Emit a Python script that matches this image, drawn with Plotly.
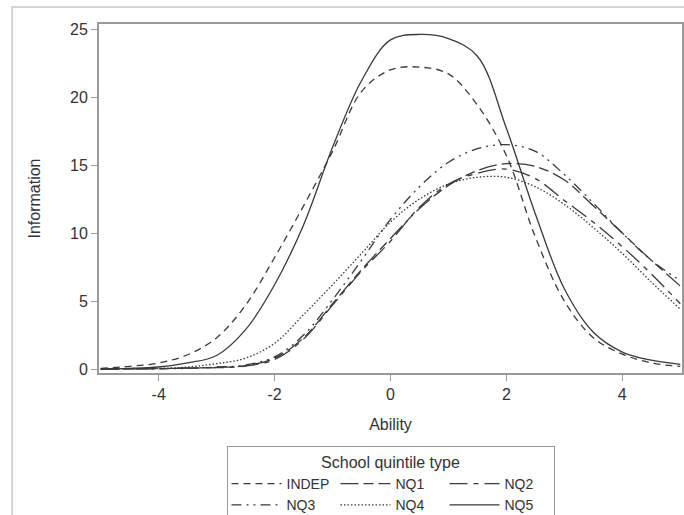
import plotly.graph_objects as go

ability = [-5, -4.5, -4, -3.5, -3, -2.5, -2, -1.5, -1, -0.5, 0, 0.5, 1, 1.5, 2, 2.5, 3, 3.5, 4, 4.5, 5]

series_names = ["INDEP", "NQ1", "NQ2", "NQ3", "NQ4", "NQ5"]
indep = [0.05, 0.2, 0.45, 1.05, 2.3, 4.7, 8.2, 12.0, 16.0, 20.4, 22.0, 22.2, 21.7, 19.4, 15.7, 9.7, 5.0, 2.3, 1.1, 0.45, 0.2]
nq1 = [0.0, 0.01, 0.03, 0.08, 0.12, 0.25, 0.8, 2.3, 4.8, 7.3, 9.6, 11.8, 13.5, 14.6, 15.1, 14.9, 13.9, 12.0, 10.0, 8.0, 6.1]
nq2 = [0.0, 0.01, 0.03, 0.07, 0.1, 0.22, 0.7, 2.2, 4.7, 7.2, 9.4, 11.9, 13.6, 14.4, 14.7, 14.0, 12.4, 10.8, 9.0, 7.0, 4.8]
nq3 = [0.0, 0.01, 0.02, 0.05, 0.15, 0.3, 0.9, 2.5, 5.1, 8.0, 11.0, 13.4, 15.2, 16.2, 16.5, 16.0, 14.3, 12.2, 10.0, 8.0, 6.5]
nq4 = [0.0, 0.02, 0.05, 0.15, 0.4, 0.8, 1.9, 4.0, 6.2, 8.5, 10.8, 12.5, 13.6, 14.1, 14.1, 13.4, 12.1, 10.4, 8.5, 6.4, 4.4]
nq5 = [0.02, 0.05, 0.15, 0.45, 1.0, 2.9, 6.2, 10.6, 16.3, 21.2, 24.2, 24.6, 24.3, 23.0, 17.7, 11.4, 5.9, 2.7, 1.25, 0.65, 0.35]

x_ticks = [-4, -2, 0, 2, 4]
x_tick_labels = ["-4", "-2", "0", "2", "4"]
y_ticks = [0, 5, 10, 15, 20, 25]

series_values = [indep, nq1, nq2, nq3, nq4, nq5]
dashes = ["7px,5px", "18px,5px,10px,5px", "18px,6px,5px,6px",
          "10px,5px,2px,5px,2px,5px", "1.5px,2px", "solid"]
groups = ["c1", "c2", "c3", "c1", "c2", "c3"]

FONT = "Liberation Sans, Arial, sans-serif"
TEXT_COLOR = "#333333"
LINE_COLOR = "#3a3a3a"
AXIS_COLOR = "#9a9a9a"
FS = 16

fig = go.Figure()
for name, vals, dash, grp in zip(series_names, series_values, dashes, groups):
    fig.add_trace(go.Scatter(
        x=ability, y=vals, name=name, mode="lines",
        line=dict(color=LINE_COLOR, width=1.3, dash=dash, shape="spline", smoothing=1.0),
        legendgroup=grp,
    ))

axis_common = dict(
    showline=True, linecolor=AXIS_COLOR, linewidth=2, mirror=True,
    ticks="outside", ticklen=6, tickwidth=1, tickcolor=AXIS_COLOR,
    showgrid=False, zeroline=False,
    tickfont=dict(family=FONT, size=FS, color=TEXT_COLOR),
)

fig.update_layout(
    width=684, height=515,
    margin=dict(l=99, r=2, t=24, b=142, autoexpand=False),
    paper_bgcolor="white", plot_bgcolor="white",
    font=dict(family=FONT, size=FS, color=TEXT_COLOR),
    xaxis=dict(range=[-5.03, 5.03], tickvals=x_ticks, ticktext=x_tick_labels,
               title=dict(text="Ability", standoff=17,
                          font=dict(family=FONT, size=FS, color=TEXT_COLOR)),
               **axis_common),
    yaxis=dict(range=[-0.29, 25.37], tickvals=y_ticks,
               title=dict(text="Information", standoff=25,
                          font=dict(family=FONT, size=FS, color=TEXT_COLOR)),
               **axis_common),
    legend=dict(
        orientation="h", traceorder="grouped", tracegroupgap=10,
        itemwidth=50, entrywidth=44, entrywidthmode="pixels",
        x=0.5, xanchor="center", y=-0.21, yanchor="top",
        bordercolor="#9a9a9a", borderwidth=1, bgcolor="white",
        title=dict(text="School quintile type", side="top center",
                   font=dict(family=FONT, size=FS, color=TEXT_COLOR)),
        font=dict(family=FONT, size=14, color=TEXT_COLOR),
        itemclick=False, itemdoubleclick=False,
    ),
    showlegend=True,
)

# outer graph frame (partially cropped at right and bottom)
fig.add_shape(type="rect", xref="paper", yref="paper",
              x0=-0.149, x1=1.2, y0=-0.6, y1=1.0487,
              line=dict(color="#c8c8c8", width=1.5), layer="below")

fig.write_html("out.html",
               config={"displayModeBar": False},
               post_script="document.body.style.margin='0';document.body.style.overflow='hidden';")
